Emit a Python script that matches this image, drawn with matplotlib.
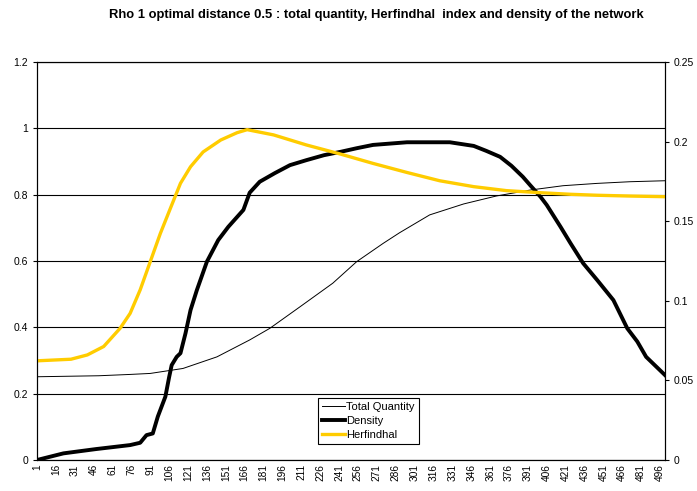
import matplotlib.pyplot as plt
import numpy as np
from matplotlib.ticker import FuncFormatter

plt.rcParams['font.family'] = ['Liberation Sans', 'DejaVu Sans']

# values (x = step index 1..500)
tq_x = [1, 50, 75, 91, 117, 144, 170, 186, 210, 236, 255, 276, 289, 313, 340, 366, 393,
        419, 446, 472, 500]
tq_y = [0.251, 0.254, 0.258, 0.261, 0.276, 0.311, 0.362, 0.397, 0.462, 0.533, 0.598, 0.653,
        0.685, 0.739, 0.772, 0.796, 0.814, 0.827, 0.834, 0.839, 0.842]

dens_x = [1, 22, 48, 75, 83, 88, 93, 97, 103, 106, 108, 112, 115, 119, 123, 128, 136, 145,
          153, 165, 170, 178, 190, 202, 215, 229, 242, 255, 268, 295, 329, 348, 358, 369,
          378, 387, 393, 401, 406, 417, 425, 435, 446, 459, 470, 478, 485, 500]
dens_y = [0.0, 0.02, 0.033, 0.045, 0.052, 0.075, 0.08, 0.131, 0.191, 0.25, 0.286, 0.311,
          0.322, 0.382, 0.452, 0.512, 0.598, 0.663, 0.703, 0.754, 0.806, 0.839, 0.865, 0.889,
          0.904, 0.919, 0.929, 0.94, 0.95, 0.958, 0.958, 0.947, 0.932, 0.914, 0.887, 0.854,
          0.828, 0.794, 0.769, 0.703, 0.653, 0.593, 0.543, 0.482, 0.397, 0.357, 0.311, 0.256]

herf_x = [1, 28, 41, 54, 67, 75, 83, 91, 99, 107, 115, 123, 133, 147, 160, 168, 189, 215,
          242, 268, 295, 321, 348, 374, 401, 425, 446, 472, 500]
herf_y = [0.0623, 0.0633, 0.066, 0.0713, 0.0827, 0.0921, 0.1069, 0.1246, 0.1423, 0.1581,
          0.1738, 0.1842, 0.1935, 0.201, 0.2056, 0.2075, 0.2042, 0.1979, 0.1922, 0.1863,
          0.1806, 0.1754, 0.1717, 0.1692, 0.1679, 0.1669, 0.1663, 0.1658, 0.1654]

xtick_vals = list(range(1, 500, 15))

fig = plt.figure(figsize=(6.97, 4.91), dpi=100)
ax = fig.add_axes([37 / 697, 1 - 460 / 491, 628 / 697, 398 / 491])
ax2 = ax.twinx()

l1, = ax.plot(tq_x, tq_y, color='black', lw=0.7, label='Total Quantity')
l2, = ax.plot(dens_x, dens_y, color='black', lw=2.8, label='Density')
l3, = ax2.plot(herf_x, herf_y, color='#FFCC00', lw=2.4, label='Herfindhal')

ax.set_xlim(1, 500)
ax.set_ylim(0, 1.2)
ax2.set_ylim(0, 0.25)
ax.set_yticks(np.arange(0, 1.21, 0.2))
ax2.set_yticks([0, 0.05, 0.1, 0.15, 0.2, 0.25])
fmt = FuncFormatter(lambda v, p: '%g' % round(v, 3))
ax.yaxis.set_major_formatter(fmt)
ax2.yaxis.set_major_formatter(fmt)
ax.set_xticks(xtick_vals)
ax.set_xticklabels([str(v) for v in xtick_vals], rotation=90, fontsize=7.3)
ax.tick_params(axis='x', length=0, pad=3)
ax.tick_params(axis='y', labelsize=7.5, length=3, direction='out')
ax2.tick_params(axis='y', labelsize=7.5, length=3, direction='out')
ax.yaxis.grid(True, color='black', lw=0.8)
ax.set_axisbelow(True)
for a in (ax, ax2):
    for s in a.spines.values():
        s.set_color('black')
        s.set_linewidth(0.8)

fig.text(376 / 697, 1 - 15 / 491,
         'Rho 1 optimal distance 0.5 : total quantity, Herfindhal  index and density of the network',
         ha='center', va='center', fontsize=9.4, fontweight='bold')

leg = ax2.legend(handles=[l1, l2, l3], loc='upper left', bbox_to_anchor=(318 / 697, 1 - 398 / 491),
                 bbox_transform=fig.transFigure, fontsize=8, fancybox=False, edgecolor='black',
                 framealpha=1, handlelength=2.1, handletextpad=0.1, borderpad=0.35,
                 labelspacing=0.35, borderaxespad=0)
leg.get_frame().set_linewidth(0.8)

fig.savefig('out.png', dpi=100)
